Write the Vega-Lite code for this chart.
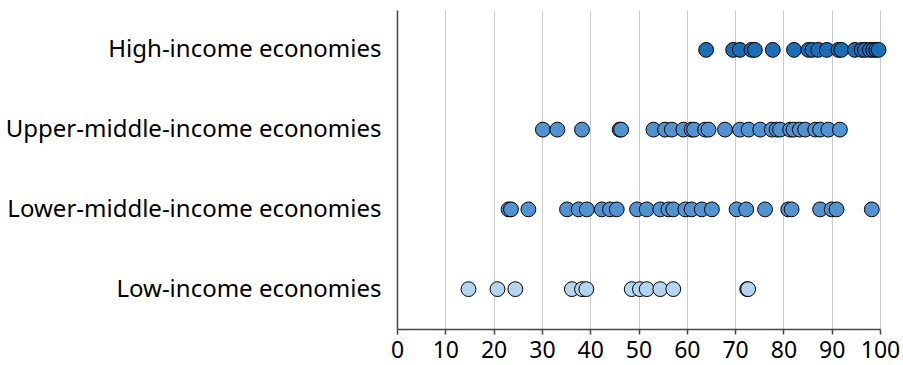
{
  "$schema": "https://vega.github.io/schema/vega-lite/v6.json",
  "width": 483,
  "height": 319,
  "autosize": "none",
  "padding": {"left": 397, "top": 10, "right": 23, "bottom": 36},
  "config": {"view": {"stroke": null}, "font": "Noto Sans"},
  "datasets": {
    "pts": [
      {"group": "High-income economies", "v": 64},
      {"group": "High-income economies", "v": 69.6},
      {"group": "High-income economies", "v": 71},
      {"group": "High-income economies", "v": 73.4},
      {"group": "High-income economies", "v": 74.1},
      {"group": "High-income economies", "v": 77.8},
      {"group": "High-income economies", "v": 82.2},
      {"group": "High-income economies", "v": 85.2},
      {"group": "High-income economies", "v": 86},
      {"group": "High-income economies", "v": 87.2},
      {"group": "High-income economies", "v": 89},
      {"group": "High-income economies", "v": 91.4},
      {"group": "High-income economies", "v": 92},
      {"group": "High-income economies", "v": 94.8},
      {"group": "High-income economies", "v": 96.2},
      {"group": "High-income economies", "v": 96.9},
      {"group": "High-income economies", "v": 97.9},
      {"group": "High-income economies", "v": 98.6},
      {"group": "High-income economies", "v": 99.2},
      {"group": "High-income economies", "v": 99.7},
      {"group": "Upper-middle-income economies", "v": 30.2},
      {"group": "Upper-middle-income economies", "v": 33.2},
      {"group": "Upper-middle-income economies", "v": 38.3},
      {"group": "Upper-middle-income economies", "v": 46.1},
      {"group": "Upper-middle-income economies", "v": 46.4},
      {"group": "Upper-middle-income economies", "v": 53.1},
      {"group": "Upper-middle-income economies", "v": 55.5},
      {"group": "Upper-middle-income economies", "v": 56.9},
      {"group": "Upper-middle-income economies", "v": 59.3},
      {"group": "Upper-middle-income economies", "v": 61},
      {"group": "Upper-middle-income economies", "v": 61.5},
      {"group": "Upper-middle-income economies", "v": 63.8},
      {"group": "Upper-middle-income economies", "v": 64.5},
      {"group": "Upper-middle-income economies", "v": 67.9},
      {"group": "Upper-middle-income economies", "v": 71},
      {"group": "Upper-middle-income economies", "v": 72.8},
      {"group": "Upper-middle-income economies", "v": 75.2},
      {"group": "Upper-middle-income economies", "v": 77.6},
      {"group": "Upper-middle-income economies", "v": 78.6},
      {"group": "Upper-middle-income economies", "v": 79.3},
      {"group": "Upper-middle-income economies", "v": 81.4},
      {"group": "Upper-middle-income economies", "v": 82.1},
      {"group": "Upper-middle-income economies", "v": 83.4},
      {"group": "Upper-middle-income economies", "v": 84.5},
      {"group": "Upper-middle-income economies", "v": 86.6},
      {"group": "Upper-middle-income economies", "v": 87.6},
      {"group": "Upper-middle-income economies", "v": 89.3},
      {"group": "Upper-middle-income economies", "v": 91.7},
      {"group": "Lower-middle-income economies", "v": 23.1},
      {"group": "Lower-middle-income economies", "v": 23.6},
      {"group": "Lower-middle-income economies", "v": 27.2},
      {"group": "Lower-middle-income economies", "v": 35.2},
      {"group": "Lower-middle-income economies", "v": 37.6},
      {"group": "Lower-middle-income economies", "v": 39.3},
      {"group": "Lower-middle-income economies", "v": 42.4},
      {"group": "Lower-middle-income economies", "v": 44.1},
      {"group": "Lower-middle-income economies", "v": 45.5},
      {"group": "Lower-middle-income economies", "v": 49.7},
      {"group": "Lower-middle-income economies", "v": 51.7},
      {"group": "Lower-middle-income economies", "v": 54.5},
      {"group": "Lower-middle-income economies", "v": 56.2},
      {"group": "Lower-middle-income economies", "v": 57.2},
      {"group": "Lower-middle-income economies", "v": 59.7},
      {"group": "Lower-middle-income economies", "v": 61},
      {"group": "Lower-middle-income economies", "v": 63.1},
      {"group": "Lower-middle-income economies", "v": 65.2},
      {"group": "Lower-middle-income economies", "v": 70.3},
      {"group": "Lower-middle-income economies", "v": 72.3},
      {"group": "Lower-middle-income economies", "v": 76.2},
      {"group": "Lower-middle-income economies", "v": 81},
      {"group": "Lower-middle-income economies", "v": 81.7},
      {"group": "Lower-middle-income economies", "v": 87.6},
      {"group": "Lower-middle-income economies", "v": 90},
      {"group": "Lower-middle-income economies", "v": 91},
      {"group": "Lower-middle-income economies", "v": 98.3},
      {"group": "Low-income economies", "v": 14.8},
      {"group": "Low-income economies", "v": 20.8},
      {"group": "Low-income economies", "v": 24.5},
      {"group": "Low-income economies", "v": 36.2},
      {"group": "Low-income economies", "v": 38.3},
      {"group": "Low-income economies", "v": 39.2},
      {"group": "Low-income economies", "v": 48.6},
      {"group": "Low-income economies", "v": 50.3},
      {"group": "Low-income economies", "v": 51.7},
      {"group": "Low-income economies", "v": 54.5},
      {"group": "Low-income economies", "v": 57.2},
      {"group": "Low-income economies", "v": 72.5},
      {"group": "Low-income economies", "v": 72.7}
    ]
  },
  "data": {"name": "pts"},
  "mark": {"type": "circle", "size": 220, "opacity": 1, "stroke": "#000000", "strokeWidth": 1},
  "encoding": {
    "x": {
      "field": "v", "type": "quantitative",
      "scale": {"domain": [0, 100], "nice": false},
      "axis": {
        "title": null, "values": [0,10,20,30,40,50,60,70,80,90,100],
        "grid": true, "gridColor": "#cccccc", "gridWidth": 1,
        "domainColor": "#444444", "domainWidth": 1.5,
        "tickColor": "#444444", "tickSize": 5, "tickWidth": 1.5,
        "labelFontSize": 23, "labelColor": "#000000", "labelPadding": 5,
        "labelFlush": false, "labelOverlap": false,
        "labelFont": "Noto Sans"
      }
    },
    "y": {
      "field": "group", "type": "nominal",
      "sort": ["High-income economies", "Upper-middle-income economies", "Lower-middle-income economies", "Low-income economies"],
      "axis": {
        "title": null, "ticks": false, "grid": false,
        "domainColor": "#444444", "domainWidth": 1.5,
        "labelFontSize": 24, "labelColor": "#000000", "labelPadding": 16,
        "labelLimit": 500, "labelFont": "Noto Sans"
      }
    },
    "color": {
      "field": "group", "type": "nominal", "legend": null,
      "scale": {
        "domain": ["High-income economies", "Upper-middle-income economies", "Lower-middle-income economies", "Low-income economies"],
        "range": ["#1b6db6", "#5192d0", "#5192d0", "#b3d5f0"]
      }
    }
  }
}
